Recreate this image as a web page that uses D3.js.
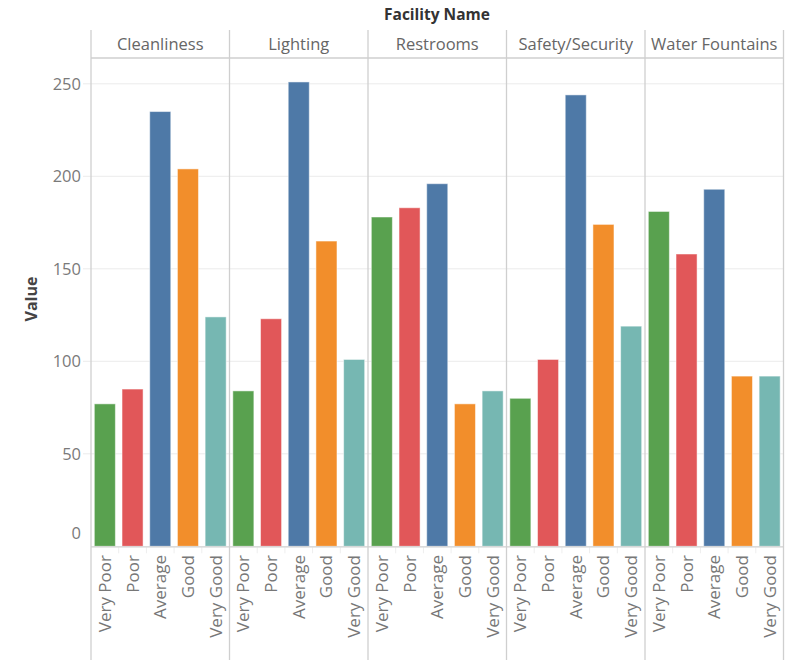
<!DOCTYPE html>
<html>
<head>
<meta charset="utf-8">
<script src="https://cdn.jsdelivr.net/npm/d3@7"></script>
<style>
  body { margin: 0; background: #fff; }
  text { font-family: "Open Sans", sans-serif; }
</style>
</head>
<body>
<svg id="chart"></svg>
<script>
const facilities = ['Cleanliness', 'Lighting', 'Restrooms', 'Safety/Security', 'Water Fountains'];
const ratings = ['Very Poor', 'Poor', 'Average', 'Good', 'Very Good'];
const cleanliness = [77, 85, 235, 204, 124];
const lighting = [84, 123, 251, 165, 101];
const restrooms = [178, 183, 196, 77, 84];
const safety = [80, 101, 244, 174, 119];
const waterFountains = [181, 158, 193, 92, 92];
const yTicks = [0, 50, 100, 150, 200, 250];
const ratingColors = ['#59a14f', '#e15759', '#4e79a7', '#f28e2b', '#76b7b2'];

const seriesByFacility = [cleanliness, lighting, restrooms, safety, waterFountains];

const width = 788;
const height = 660;
const plotLeft = 91;
const plotRight = 783.5;
const headerTop = 30;
const plotTop = 58;
const baseline = 546.3;

const svg = d3.select('#chart')
    .attr('width', width)
    .attr('height', height);

const x0 = d3.scaleBand()
    .domain(facilities)
    .range([plotLeft, plotRight]);

const x1 = d3.scaleBand()
    .domain(ratings)
    .range([0, x0.bandwidth()])
    .paddingInner(0.24)
    .paddingOuter(0.12);

const y = d3.scaleLinear()
    .domain([0, (baseline - plotTop) / 1.85])
    .range([baseline, plotTop]);

const color = d3.scaleOrdinal()
    .domain(ratings)
    .range(ratingColors);

// gridlines
svg.append('g')
    .selectAll('line')
    .data(yTicks.filter(t => t > 0))
    .join('line')
    .attr('x1', plotLeft - 8)
    .attr('x2', plotRight)
    .attr('y1', d => y(d))
    .attr('y2', d => y(d))
    .attr('stroke', '#ececec')
    .attr('stroke-width', 1);

// y tick labels
svg.append('g')
    .selectAll('text')
    .data(yTicks)
    .join('text')
    .attr('x', 81)
    .attr('y', d => (d === 0 ? y(d) - 13 : y(d)))
    .attr('dy', '0.35em')
    .attr('text-anchor', 'end')
    .attr('fill', '#7a7a7a')
    .style('font-size', '16.5px')
    .text(d => d);

// y axis title
svg.append('text')
    .attr('transform', `translate(31,299) rotate(-90)`)
    .attr('dy', '0.35em')
    .attr('text-anchor', 'middle')
    .attr('fill', '#444')
    .style('font-size', '16px')
    .style('font-weight', 'bold')
    .text('Value');

// top title
svg.append('text')
    .attr('x', 437)
    .attr('y', 15)
    .attr('dy', '0.35em')
    .attr('text-anchor', 'middle')
    .attr('fill', '#333')
    .style('font-size', '15.5px')
    .style('font-weight', 'bold')
    .text('Facility Name');

// panels
const panel = svg.append('g')
    .selectAll('g')
    .data(facilities)
    .join('g')
    .attr('transform', d => `translate(${x0(d)},0)`);

panel.append('text')
    .attr('x', x0.bandwidth() / 2)
    .attr('y', 44)
    .attr('dy', '0.35em')
    .attr('text-anchor', 'middle')
    .attr('fill', '#666')
    .style('font-size', '16.5px')
    .text(d => d);

panel.selectAll('rect')
    .data((d, i) => ratings.map((r, j) => ({ rating: r, value: seriesByFacility[i][j] })))
    .join('rect')
    .attr('x', d => x1(d.rating))
    .attr('y', d => y(d.value))
    .attr('width', x1.bandwidth())
    .attr('height', d => baseline - y(d.value))
    .attr('fill', d => color(d.rating))
    .attr('stroke', '#fff')
    .attr('stroke-opacity', 0.5)
    .attr('stroke-width', 1);

// small separators below the baseline
panel.selectAll('line.sep')
    .data(ratings.slice(1))
    .join('line')
    .attr('class', 'sep')
    .attr('x1', d => x1(d) - x1.step() * x1.paddingInner() / 2)
    .attr('x2', d => x1(d) - x1.step() * x1.paddingInner() / 2)
    .attr('y1', baseline + 1)
    .attr('y2', baseline + 7)
    .attr('stroke', '#eee');

panel.selectAll('text.cat')
    .data(ratings)
    .join('text')
    .attr('class', 'cat')
    .attr('transform', d => `translate(${x1(d) + x1.bandwidth() / 2},555) rotate(-90)`)
    .attr('dy', '0.35em')
    .attr('text-anchor', 'end')
    .attr('fill', '#777')
    .style('font-size', '17px')
    .text(d => d);

// frame lines
const frame = svg.append('g')
    .attr('stroke', '#cfcfcf')
    .attr('stroke-width', 1.3);

frame.selectAll('line.v')
    .data([...facilities.map(f => x0(f)), plotRight])
    .join('line')
    .attr('class', 'v')
    .attr('x1', d => d)
    .attr('x2', d => d)
    .attr('y1', headerTop)
    .attr('y2', height);

frame.append('line')
    .attr('x1', plotLeft)
    .attr('x2', plotRight)
    .attr('y1', plotTop)
    .attr('y2', plotTop);

frame.append('line')
    .attr('x1', plotLeft)
    .attr('x2', plotRight)
    .attr('y1', baseline + 0.5)
    .attr('y2', baseline + 0.5);
</script>
</body>
</html>
